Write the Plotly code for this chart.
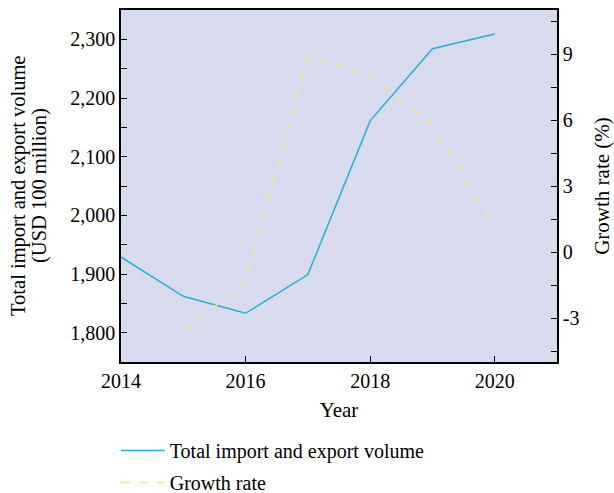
import plotly.graph_objects as go

years = [2014, 2015, 2016, 2017, 2018, 2019, 2020]
total_volume = [1929, 1862, 1833, 1899, 2161, 2284, 2309]
growth_years = [2015, 2016, 2017, 2018, 2019, 2020]
growth_rate = [-3.52, -1.45, 8.9, 8.07, 5.74, 1.11]
left_title_lines = ["Total import and export volume", "(USD 100 million)"]

FONT = "Liberation Serif"
fig = go.Figure()
fig.add_trace(go.Scatter(x=years, y=total_volume, mode="lines",
                         name="Total import and export volume",
                         line=dict(color="#1cb6d2", width=1.5),
                         legendgroup="a"))
fig.add_trace(go.Scatter(x=growth_years, y=growth_rate, mode="lines",
                         name="Growth rate", yaxis="y2",
                         line=dict(color="#f2e68a", width=1.5, dash="dash"),
                         legendgroup="b"))

axis_common = dict(showline=True, linecolor="black", linewidth=1.5,
                   ticks="inside", ticklen=6, tickcolor="black", tickwidth=1.2,
                   showgrid=False, zeroline=False,
                   tickfont=dict(family=FONT, size=20, color="black"))

# left axis title as two rotated text lines
for i, txt in enumerate(left_title_lines):
    fig.add_annotation(text=txt, xref="paper", yref="paper",
                       x=0, xshift=-103 + 21 * i, y=0.5, xanchor="center", yanchor="middle",
                       textangle=-90, showarrow=False,
                       font=dict(family=FONT, size=20.5, color="black"))

fig.update_layout(
    width=614, height=493,
    margin=dict(l=121, r=57, t=10, b=131, autoexpand=False),
    plot_bgcolor="#d8dbed", paper_bgcolor="white",
    font=dict(family=FONT, size=20, color="black"),
    xaxis=dict(range=[2014, 2021], tickvals=[2014, 2016, 2018, 2020],
               mirror=True,
               title=dict(text="Year", font=dict(family=FONT, size=21), standoff=12),
               **axis_common),
    yaxis=dict(range=[1750, 2350], tickvals=[1800, 1900, 2000, 2100, 2200, 2300],
               ticktext=["1,800", "1,900", "2,000", "2,100", "2,200", "2,300"],
               minor=dict(ticks="inside", ticklen=6, tickcolor="black", dtick=50, tick0=1750),
               **axis_common),
    yaxis2=dict(range=[-5, 11], tickvals=[-3, 0, 3, 6, 9],
                ticktext=["-3", "0", "3", "6", "9"], overlaying="y", side="right",
                minor=dict(ticks="inside", ticklen=6, tickcolor="black", dtick=1.5, tick0=0),
                title=dict(text="Growth rate (%)", font=dict(family=FONT, size=21), standoff=18),
                **axis_common),
    legend=dict(x=-0.012, xanchor="left", y=-0.196, yanchor="top",
                font=dict(family=FONT, size=20), tracegroupgap=3, itemwidth=44,
                bgcolor="rgba(0,0,0,0)"),
    showlegend=True,
)

fig.write_html("out.html")
